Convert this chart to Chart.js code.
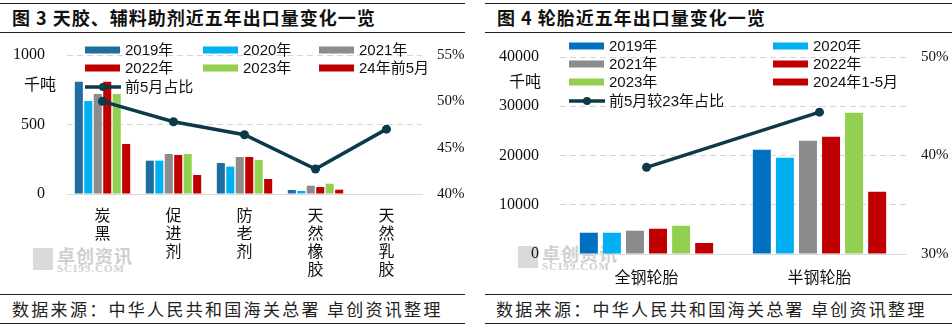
<!DOCTYPE html>
<html>
<head>
<meta charset="utf-8">
<script src="https://cdn.jsdelivr.net/npm/chart.js@4/dist/chart.umd.min.js"></script>
<style>
  body { margin: 0; background: #fff; }
  #wrap { position: relative; width: 952px; height: 329px; background: #fff; overflow: hidden;
          font-family: "Noto Sans CJK SC", sans-serif; }
  canvas { position: absolute; top: 40px; }
  .rule { position: absolute; height: 0; border-top: 1.5px solid #222; }
  .title { position: absolute; top: 4px; font-size: 18px; font-weight: bold; color: #111; letter-spacing: 1px; line-height: 26px; }
  .foot { position: absolute; top: 296px; font-size: 17px; color: #222; letter-spacing: 2.3px; line-height: 26px; }
  .unit { position: absolute; font-size: 16px; color: #111; }
  .wm { position: absolute; color: #d0d0d0; line-height: 1; }
  .wm b { position: absolute; left: 0; top: 0; width: 20px; height: 22px; background: #dadada; }
  .wm .cn { position: absolute; left: 24px; top: -2px; font-size: 18px; font-weight: bold; white-space: nowrap; letter-spacing: 1px; }
  .wm .en { position: absolute; left: 24px; top: 15px; font-size: 11px; font-weight: bold; font-family: "Liberation Serif", serif; letter-spacing: 1px; white-space: nowrap; }
</style>
</head>
<body>
<div id="wrap">
  <div class="rule" style="left:0;width:465px;top:3px"></div>
  <div class="rule" style="left:0;width:465px;top:32px"></div>
  <div class="rule" style="left:485px;width:467px;top:3px"></div>
  <div class="rule" style="left:485px;width:467px;top:32px"></div>
  <div class="rule" style="left:0;width:465px;top:294px"></div>
  <div class="rule" style="left:0;width:465px;top:323px"></div>
  <div class="rule" style="left:485px;width:467px;top:294px"></div>
  <div class="rule" style="left:485px;width:467px;top:323px"></div>

  <div class="title" style="left:12px">图 3 天胶、辅料助剂近五年出口量变化一览</div>
  <div class="title" style="left:497px">图 4 轮胎近五年出口量变化一览</div>
  <div class="foot" style="left:12px">数据来源：中华人民共和国海关总署 卓创资讯整理</div>
  <div class="foot" style="left:496px">数据来源：中华人民共和国海关总署 卓创资讯整理</div>

  <div class="wm" style="left:33px;top:248px"><b></b><div class="cn">卓创资讯</div><div class="en">SCI99.COM</div></div>
  <div class="wm" style="left:518px;top:246px"><b></b><div class="cn">卓创资讯</div><div class="en">SCI99.COM</div></div>

  <canvas id="c1" width="476" height="252" style="left:0"></canvas>
  <canvas id="c2" width="476" height="252" style="left:476px"></canvas>

  <div class="unit" style="left:24px;top:71px">千吨</div>
  <div class="unit" style="left:509px;top:68px">千吨</div>
</div>

<script>
// 图3 天胶、辅料助剂 (千吨)
const rubberCats = [['炭', '黑'], ['促', '进', '剂'], ['防', '老', '剂'], ['天', '然', '橡', '胶'], ['天', '然', '乳', '胶']];
const rubberLabels = ['2019年', '2020年', '2021年', '2022年', '2023年', '24年前5月'];
const rubber2019 = [808, 240, 223, 29, 0];
const rubber2020 = [669, 240, 197, 22, 0];
const rubber2021 = [719, 288, 266, 60, 0];
const rubber2022 = [808, 281, 266, 50, 0];
const rubber2023 = [719, 288, 245, 74, 0];
const rubber2024 = [360, 137, 108, 31, 0];
const rubberShare = [50.0, 47.8, 46.4, 42.7, 47.0];
const rubberShareLabel = '前5月占比';

// 图4 轮胎 (千吨)
const tyreCats = ['全钢轮胎', '半钢轮胎'];
const tyreLabels = ['2019年', '2020年', '2021年', '2022年', '2023年', '2024年1-5月'];
const tyre2019 = [4320, 21150];
const tyre2020 = [4320, 19530];
const tyre2021 = [4730, 22980];
const tyre2022 = [5130, 23790];
const tyre2023 = [5740, 28660];
const tyre2024 = [2230, 12640];
const tyreShare = [38.8, 44.4];
const tyreShareLabel = '前5月较23年占比';

const LINE = '#0b3a4b';
const numFont = { family: "'Liberation Serif', serif", size: 16 };
const pctFont = { family: "'Liberation Serif', serif", size: 15 };

// legend laid out in a fixed grid on top of the plot
const gridLegend = {
  id: 'gridLegend',
  afterDatasetsDraw(chart, args, opts) {
    const ctx = chart.ctx;
    ctx.save();
    ctx.font = "15px 'Liberation Sans', 'Noto Sans CJK SC', sans-serif";
    ctx.textBaseline = 'middle';
    chart.data.datasets.forEach((ds, i) => {
      const x = opts.cols[i % opts.cols.length];
      const y = opts.rows[Math.floor(i / opts.cols.length)];
      if (ds.type === 'line') {
        ctx.strokeStyle = ds.borderColor;
        ctx.lineWidth = 3.5;
        ctx.beginPath();
        ctx.moveTo(x, y);
        ctx.lineTo(x + 36, y);
        ctx.stroke();
        ctx.fillStyle = ds.borderColor;
        ctx.beginPath();
        ctx.arc(x + 18, y, 4, 0, Math.PI * 2);
        ctx.fill();
      } else {
        ctx.fillStyle = ds.backgroundColor;
        ctx.fillRect(x, y - 3.5, 35, 7);
      }
      ctx.fillStyle = '#111';
      ctx.fillText(ds.label, x + 40, y + 1);
    });
    ctx.restore();
  }
};

function bar(label, data, color, pct) {
  return { type: 'bar', label, data, backgroundColor: color, yAxisID: 'y', order: 1,
           categoryPercentage: 0.8, barPercentage: pct };
}
function line(label, data) {
  return { type: 'line', label, data, borderColor: LINE, backgroundColor: LINE, borderWidth: 3.5,
           pointRadius: 4.5, pointBackgroundColor: LINE, pointBorderWidth: 0, yAxisID: 'y1', order: 0, tension: 0 };
}
// fixed axis width; tick padding must not push the chart area down
function fixW(w) { return s => { s.width = w; s.paddingTop = 8; s.paddingBottom = 8; }; }
function fixH(h) { return s => { s.height = h; }; }
const gridColor = c => c.tick.value === 0 ? 'rgba(0,0,0,0)' : '#d6d6d6';

new Chart(document.getElementById('c1'), {
  data: {
    labels: rubberCats,
    datasets: [
      bar(rubberLabels[0], rubber2019, '#1f6e9e', 0.85),
      bar(rubberLabels[1], rubber2020, '#00b0f0', 0.85),
      bar(rubberLabels[2], rubber2021, '#8c8c8c', 0.85),
      bar(rubberLabels[3], rubber2022, '#c00000', 0.85),
      bar(rubberLabels[4], rubber2023, '#92d050', 0.85),
      bar(rubberLabels[5], rubber2024, '#c00000', 0.85),
      line(rubberShareLabel, rubberShare)
    ]
  },
  options: {
    responsive: false,
    animation: false,
    layout: { padding: { top: 15, left: 0, right: 0, bottom: 0 } },
    plugins: {
      legend: { display: false },
      tooltip: { enabled: false },
      gridLegend: { cols: [85, 203, 319], rows: [10, 28, 47] }
    },
    scales: {
      x: {
        afterFit: fixH(98),
        grid: { display: false },
        border: { color: '#d9d9d9' },
        ticks: { color: '#111', padding: 4, maxRotation: 0, autoSkip: false,
                 font: { family: "'Noto Sans CJK SC', sans-serif", size: 16, lineHeight: 1.12 } }
      },
      y: {
        position: 'left', min: 0, max: 1000,
        afterFit: fixW(67),
        border: { display: false, dash: [6, 4] },
        grid: { color: gridColor, drawTicks: false },
        ticks: { stepSize: 500, color: '#111', padding: 22, font: numFont, callback: v => v }
      },
      y1: {
        position: 'right', min: 40, max: 55,
        afterFit: fixW(54),
        border: { display: false },
        grid: { display: false, drawTicks: false },
        ticks: { stepSize: 5, color: '#111', padding: 15, font: pctFont, callback: v => v + '%' }
      }
    }
  },
  plugins: [gridLegend]
});

new Chart(document.getElementById('c2'), {
  data: {
    labels: tyreCats,
    datasets: [
      bar(tyreLabels[0], tyre2019, '#0070c0', 0.78),
      bar(tyreLabels[1], tyre2020, '#00b0f0', 0.78),
      bar(tyreLabels[2], tyre2021, '#8c8c8c', 0.78),
      bar(tyreLabels[3], tyre2022, '#c00000', 0.78),
      bar(tyreLabels[4], tyre2023, '#92d050', 0.78),
      bar(tyreLabels[5], tyre2024, '#c00000', 0.78),
      line(tyreShareLabel, tyreShare)
    ]
  },
  options: {
    responsive: false,
    animation: false,
    layout: { padding: { top: 17, left: 0, right: 0, bottom: 0 } },
    plugins: {
      legend: { display: false },
      tooltip: { enabled: false },
      gridLegend: { cols: [93, 297], rows: [6, 24, 42, 61] }
    },
    scales: {
      x: {
        afterFit: fixH(38),
        grid: { display: false },
        border: { color: '#d9d9d9' },
        ticks: { color: '#111', padding: 5, maxRotation: 0, autoSkip: false,
                 font: { family: "'Noto Sans CJK SC', sans-serif", size: 16 } }
      },
      y: {
        position: 'left', min: 0, max: 40000,
        afterFit: fixW(84),
        border: { display: false, dash: [6, 4] },
        grid: { color: gridColor, drawTicks: false },
        ticks: { stepSize: 10000, color: '#111', padding: 21, font: numFont, callback: v => v }
      },
      y1: {
        position: 'right', min: 30, max: 50,
        afterFit: fixW(46),
        border: { display: false },
        grid: { display: false, drawTicks: false },
        ticks: { stepSize: 10, color: '#111', padding: 15, font: pctFont, callback: v => v + '%' }
      }
    }
  },
  plugins: [gridLegend]
});
</script>
</body>
</html>
